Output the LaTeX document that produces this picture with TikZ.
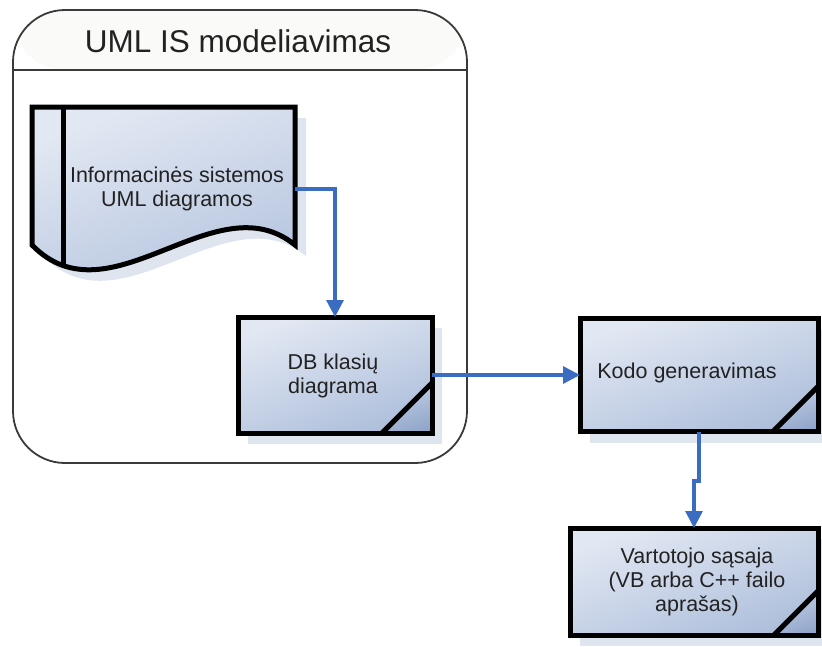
\documentclass[tikz,border=0pt]{standalone}
\usepackage{fontspec}
\setmainfont{Liberation Sans}
\usetikzlibrary{arrows.meta,shadows,calc}
\definecolor{boxtop}{HTML}{E2E8F3}
\definecolor{boxbot}{HTML}{AEBFDB}
\definecolor{foldtop}{HTML}{C4D0E7}
\definecolor{foldbot}{HTML}{92A7CB}
\definecolor{shadowc}{HTML}{DFE5EE}
\definecolor{arrowc}{HTML}{3A6CC2}
\definecolor{framec}{HTML}{3A3A3A}
\definecolor{headerc}{HTML}{FAFAF8}
\definecolor{txtc}{HTML}{222222}
\begin{document}
\begin{tikzpicture}[x=1pt,y=-1pt,
  txt/.style={font=\fontsize{21.5}{24}\selectfont, text=txtc, align=center, inner sep=0pt},
  procbox/.style={draw=black, line width=5pt, outer sep=0pt, inner sep=0pt,
    top color=boxtop, bottom color=boxbot, shading angle=20,
    drop shadow={shadow xshift=10pt, shadow yshift=-11pt, fill=shadowc, opacity=1}},
  foldarea/.style={top color=foldtop, bottom color=foldbot, shading angle=20},
  flow/.style={draw=arrowc, line width=3.2pt, -{Triangle[length=17pt,width=17pt]}},
  docpath/.style={insert path={(32,107) -- (295,107) -- (295,245)
    .. controls (215,180) and (110,325) .. (32,245) -- cycle}},
]
\useasboundingbox (0,0) rectangle (822,646);

% swimlane container with its header band
\node[draw=framec, line width=1.8pt, rounded corners=52pt, minimum width=454pt,
  minimum height=453pt, inner sep=0pt, outer sep=0pt,
  path picture={
    \fill[headerc] (path picture bounding box.north west)
      rectangle ([yshift=-60pt]path picture bounding box.north east);
    \draw[framec, line width=1.6pt] ([yshift=-60pt]path picture bounding box.north west)
      -- ([yshift=-60pt]path picture bounding box.north east);
  }] (lane) at (240,236.5) {};
\node[font=\fontsize{31.5}{36}\selectfont, text=txtc, inner sep=0pt] (title) at (238,41) {UML IS modeliavimas};

% document symbol
\node[minimum width=263pt, minimum height=138pt, inner sep=0pt, outer sep=0pt] (doc) at (163.5,176) {};
\fill[shadowc, shift={(11,11)}, docpath];
\shade[top color=boxtop, bottom color=boxbot, shading angle=20, docpath];
\begin{scope}
  \clip[docpath];
  \draw[black, line width=5pt] (63,100) -- (63,300);
\end{scope}
\draw[black, line width=5pt, line join=miter, docpath];
\node[txt] (doctext) at (177,189) {Informacinės sistemos\\UML diagramos};

% process boxes
\node[procbox, minimum width=194pt, minimum height=116pt] (db) at (335,375) {};
\node[procbox, minimum width=238pt, minimum height=113pt] (kodo) at (699,375) {};
\node[procbox, minimum width=248pt, minimum height=107pt] (vart) at (694,581.5) {};

% folded corners
\foreach \b/\f in {db/50, kodo/45, vart/44}{
  \shade[foldarea] ([shift={(-\f,0)}]\b.south east) -- ([shift={(0,-\f)}]\b.south east)
    -- (\b.south east) -- cycle;
  \draw[black, line width=5pt] ([shift={(-\f,0)}]\b.south east) -- ([shift={(0,-\f)}]\b.south east);
  \draw[black, line width=5pt, line join=miter] (\b.north west) rectangle (\b.south east);
}

\node[txt] (dbtext) at (333,376) {DB klasių\\diagrama};
\node[txt] (kodotext) at (687,373) {Kodo generavimas};
\node[txt] (varttext) at (697,582) {Vartotojo sąsaja\\(VB arba C++ failo\\aprašas)};

% connectors
\draw[flow] (doc.east |- doctext.center) -| (db.north);
\draw[flow] (db.east) -- (kodo.west);
\draw[flow] (kodo.south) -- (kodo.south |- 0,481) -| (vart.north);
\end{tikzpicture}
\end{document}
